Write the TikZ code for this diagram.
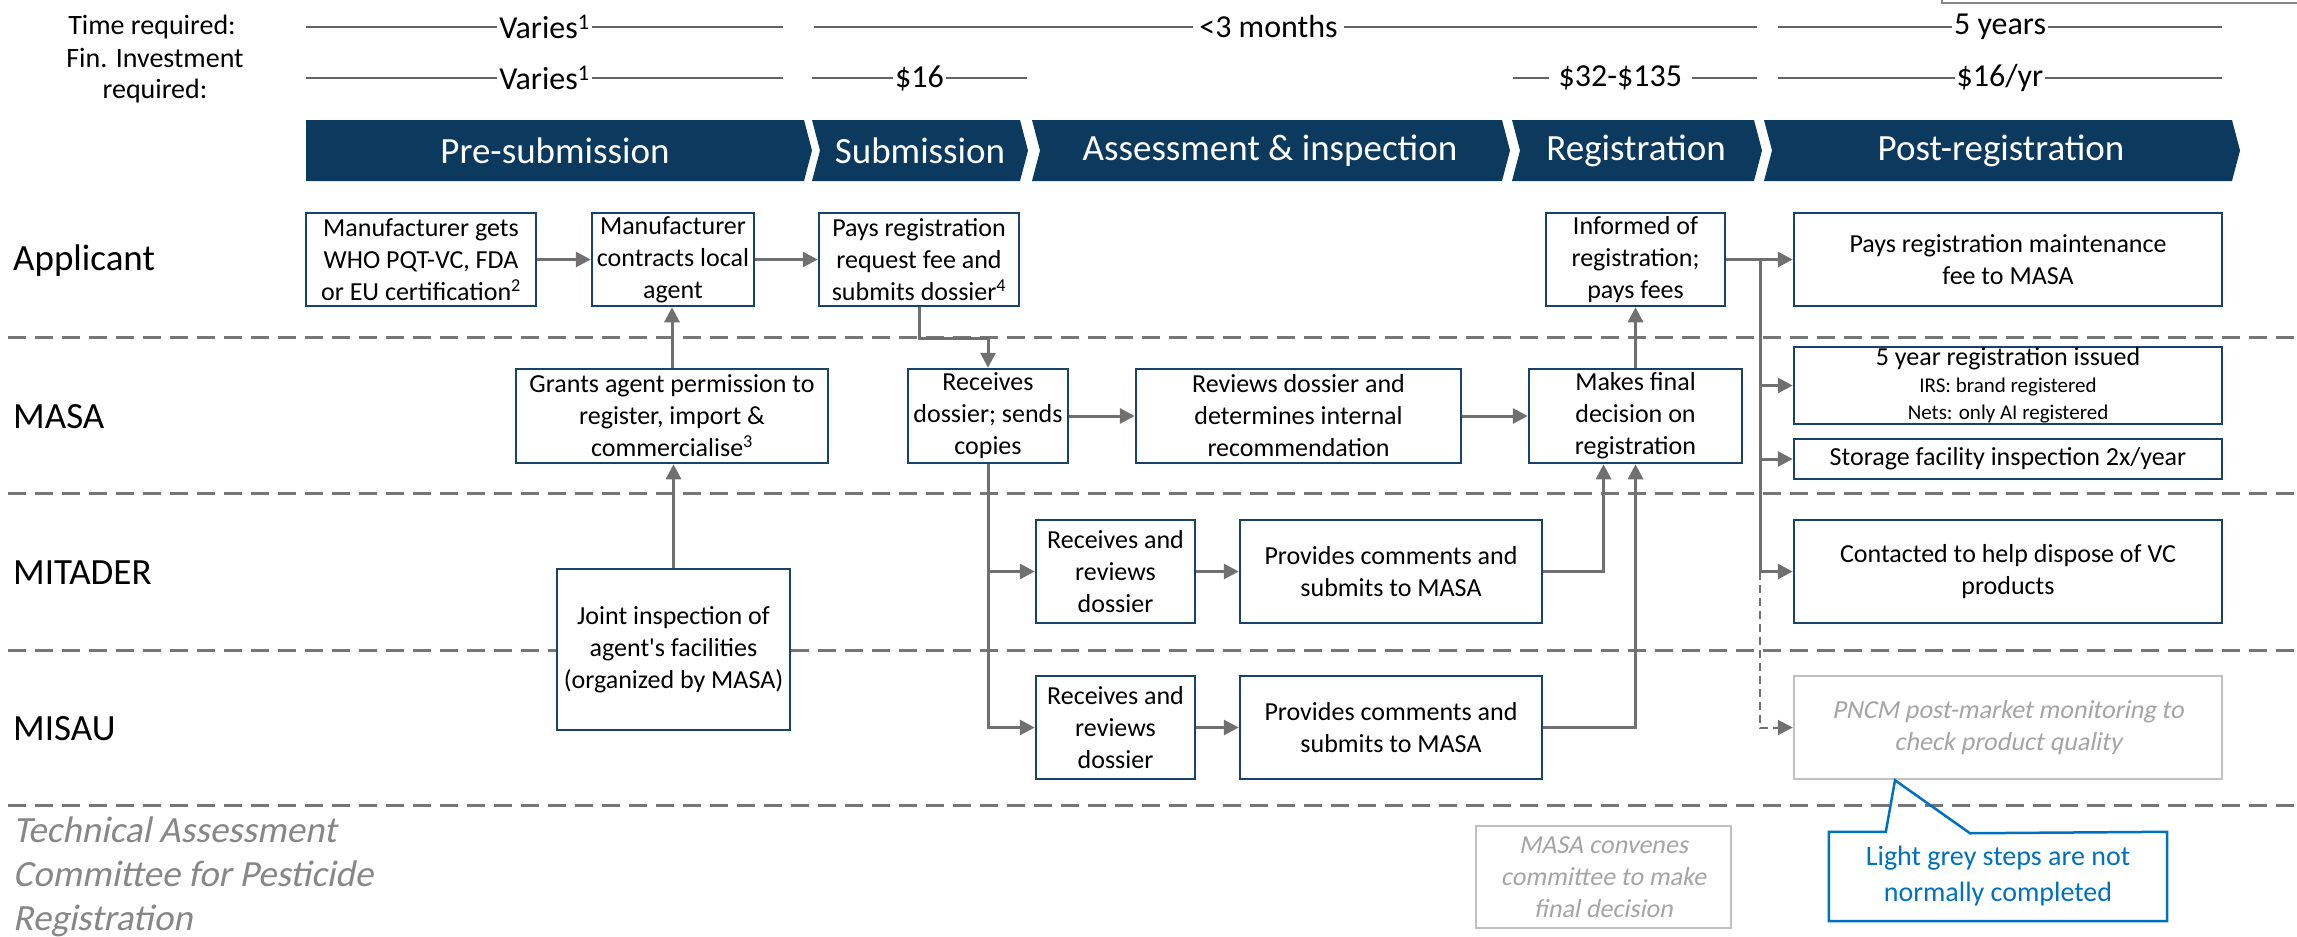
\documentclass[tikz,border=0pt]{standalone}
\usepackage{fontspec}
\setmainfont{Carlito}[Ligatures=TeXOff, ItalicFont=Carlito, ItalicFeatures={FakeSlant=0.2}]
\usetikzlibrary{arrows.meta}

\definecolor{phaseblue}{RGB}{12,58,94}
\definecolor{boxblue}{RGB}{24,66,106}
\definecolor{flowgrey}{RGB}{112,112,112}
\definecolor{lanegrey}{RGB}{118,118,118}
\definecolor{spangrey}{RGB}{100,100,100}
\definecolor{skipgrey}{RGB}{192,192,192}
\definecolor{skiptext}{RGB}{165,165,165}
\definecolor{tacgrey}{RGB}{135,135,135}
\definecolor{notecol}{RGB}{0,112,192}

\begin{document}
\begin{tikzpicture}[x=1pt, y=-1pt,
  task/.style={draw=boxblue, line width=2.5pt, fill=white, align=center, inner sep=0pt,
    font=\fontsize{26}{32}\selectfont},
  skipped/.style={task, draw=skipgrey, text=skiptext, font=\itshape\fontsize{26}{32}\selectfont},
  flow/.style={draw=flowgrey, line width=3pt, -{Triangle[length=15pt,width=15pt]}},
  maybe/.style={flow, line width=2pt, dash pattern=on 8pt off 5pt},
  lane/.style={draw=lanegrey, line width=3pt, dash pattern=on 18pt off 9pt},
  phase/.style={fill=phaseblue},
  phasename/.style={text=white, inner sep=0pt, font=\fontsize{37}{44}\selectfont},
  who/.style={anchor=west, inner sep=0pt, font=\fontsize{37}{44}\selectfont},
  span/.style={draw=spangrey, line width=2pt},
  spanlabel/.style={fill=white, inner xsep=2pt, inner ysep=0pt, font=\fontsize{32}{38}\selectfont},
  rowlabel/.style={align=center, inner sep=0pt, font=\fontsize{28}{31}\selectfont}
]
\useasboundingbox (0,0) rectangle (2297,937);

% corner of a frame above the page
\draw[draw=tacgrey, line width=2pt] (1942,-20) |- (2310,3);

% time and money
\node[rowlabel] (time) at (152,27) {Time required:};
\node[rowlabel] (money) at (155,76) {Fin. Investment\\required:};
\draw[span] (306,27) -- node[spanlabel] (t1) {Varies\textsuperscript{1}} (783,27);
\draw[span] (814,27) -- node[spanlabel, pos=0.482, inner xsep=6pt] (t2) {<3 months} (1757,27);
\draw[span] (1778,27) -- node[spanlabel] (t3) {5 years} (2222,27);
\draw[span] (306,78) -- node[spanlabel] (f1) {Varies\textsuperscript{1}} (783,78);
\draw[span] (812,78) -- node[spanlabel] (f2) {\$16} (1027,78);
\draw[span] (1513,78) -- node[spanlabel, pos=0.44, inner xsep=10pt] (f3) {\$32-\$135} (1757,78);
\draw[span] (1778,78) -- node[spanlabel] (f4) {\$16/yr} (2222,78);

% phases
\fill[phase] (306,120) -- (804,120) -- (812,150.5) -- (804,181) -- (306,181) -- cycle;
\fill[phase] (812,120) -- (1020,120) -- (1028,150.5) -- (1020,181) -- (812,181) -- (820,150.5) -- cycle;
\fill[phase] (1032,120) -- (1502,120) -- (1510,150.5) -- (1502,181) -- (1032,181) -- (1040,150.5) -- cycle;
\fill[phase] (1512,120) -- (1754,120) -- (1762,150.5) -- (1754,181) -- (1512,181) -- (1520,150.5) -- cycle;
\fill[phase] (1764,120) -- (2232,120) -- (2240,150.5) -- (2232,181) -- (1764,181) -- (1772,150.5) -- cycle;
\node[phasename] (pre) at (555,150.5) {Pre-submission};
\node[phasename] (sub) at (920,150.5) {Submission};
\node[phasename] (assess) at (1270,150.5) {Assessment \& inspection};
\node[phasename] (reg) at (1636,150.5) {Registration};
\node[phasename] (post) at (2001,150.5) {Post-registration};

% swimlanes
\draw[lane] (8,337) -- (2297,337);
\draw[lane] (8,493) -- (2297,493);
\draw[lane] (8,650) -- (2297,650);
\draw[lane] (8,805) -- (2297,805);
\node[who] (applicant) at (13,261) {Applicant};
\node[who] (masa) at (13,417) {MASA};
\node[who] (mitader) at (13,573) {MITADER};
\node[who] (misau) at (13,729) {MISAU};
\node[who, align=left, text=tacgrey, font=\itshape\fontsize{37}{44}\selectfont] (tac) at (13,877)
  {Technical Assessment\\Committee for Pesticide\\Registration};

% applicant
\node[task, minimum width=230, minimum height=93] (B1) at (421,259.5)
  {Manufacturer gets\\WHO PQT-VC, FDA\\or EU certification\textsuperscript{2}};
\node[task, minimum width=162, minimum height=93] (B2) at (673,259.5)
  {Manufacturer\\contracts local\\agent};
\node[task, minimum width=200, minimum height=93] (B3) at (919,259.5)
  {Pays registration\\request fee and\\submits dossier\textsuperscript{4}};
\node[task, minimum width=179, minimum height=93] (B4) at (1635.5,259.5)
  {Informed of\\registration;\\pays fees};
\node[task, minimum width=428, minimum height=93] (B5) at (2008,259.5)
  {Pays registration maintenance\\fee to MASA};

% MASA
\node[task, minimum width=312, minimum height=94] (M1) at (672,416)
  {Grants agent permission to\\register, import \&\\commercialise\textsuperscript{3}};
\node[task, minimum width=160, minimum height=94] (M2) at (988,416)
  {Receives\\dossier; sends\\copies};
\node[task, minimum width=325, minimum height=94] (M3) at (1298.5,416)
  {Reviews dossier and\\determines internal\\recommendation};
\node[task, minimum width=213, minimum height=94] (M4) at (1635.5,416)
  {Makes final\\decision on\\registration};
\node[task, minimum width=428, minimum height=77] (M5) at (2008,385.5)
  {5 year registration issued\\[-5pt]{\fontsize{21}{27}\selectfont IRS: brand registered}\\[-5pt]{\fontsize{21}{27}\selectfont Nets: only AI registered}};
\node[task, minimum width=428, minimum height=40] (M6) at (2008,459)
  {Storage facility inspection 2x/year};

% MITADER
\node[task, minimum width=233, minimum height=161] (T1) at (673.5,649.5)
  {Joint inspection of\\agent's facilities\\(organized by MASA)};
\node[task, minimum width=159, minimum height=103] (T2) at (1115.5,571.5)
  {Receives and\\reviews\\dossier};
\node[task, minimum width=302, minimum height=103] (T3) at (1391,571.5)
  {Provides comments and\\submits to MASA};
\node[task, minimum width=428, minimum height=103] (T4) at (2008,571.5)
  {Contacted to help dispose of VC\\products};

% MISAU
\node[task, minimum width=159, minimum height=103] (S2) at (1115.5,727.5)
  {Receives and\\reviews\\dossier};
\node[task, minimum width=302, minimum height=103] (S3) at (1391,727.5)
  {Provides comments and\\submits to MASA};
\node[skipped, minimum width=428, minimum height=103] (S4) at (2008,727.5)
  {PNCM post-market monitoring to\\check product quality};

% committee
\node[skipped, minimum width=255, minimum height=102] (G1) at (1603.5,877)
  {MASA convenes\\committee to make\\final decision};

% flows
\draw[flow] (B1.east) -- (B2.west);
\draw[flow] (B2.east) -- (B3.west);
\draw[flow] (M1.north) -- (M1.north |- B2.south);
\draw[flow] (T1.north) -- (T1.north |- M1.south);
\draw[flow] (B3.south) -- ++(0,31) -| (M2.north);
\draw[flow] (M2.east) -- (M3.west);
\draw[flow] (M3.east) -- (M4.west);
\draw[flow] (M2.south) |- (T2.west);
\draw[flow] (M2.south) |- (S2.west);
\draw[flow] (T2.east) -- (T3.west);
\draw[flow] (S2.east) -- (S3.west);
\draw[flow] (T3.east) -| ([xshift=-32pt]M4.south);
\draw[flow] (S3.east) -| (M4.south);
\draw[flow] (M4.north) -- (B4.south);
\coordinate (fork) at ([xshift=34pt]B4.east);
\draw[flow] (B4.east) -- (B5.west);
\draw[flow] (fork) |- (M5.west);
\draw[flow] (fork) |- (M6.west);
\draw[flow] (fork) |- (T4.west);
\draw[maybe] (fork |- T4.west) |- (S4.west);

% callout
\node[align=center, inner sep=0pt, text=notecol, minimum width=338, minimum height=89,
  font=\fontsize{28}{36}\selectfont] (note) at (1998,876.5)
  {Light grey steps are not\\normally completed};
\draw[draw=notecol, line width=2.5pt, line join=miter] (note.north west) -- ++(57,0)
  -- ([xshift=-113pt]S4.south) -- ++(75,53) -- (note.north east) -- (note.south east)
  -- (note.south west) -- cycle;
\end{tikzpicture}
\end{document}
